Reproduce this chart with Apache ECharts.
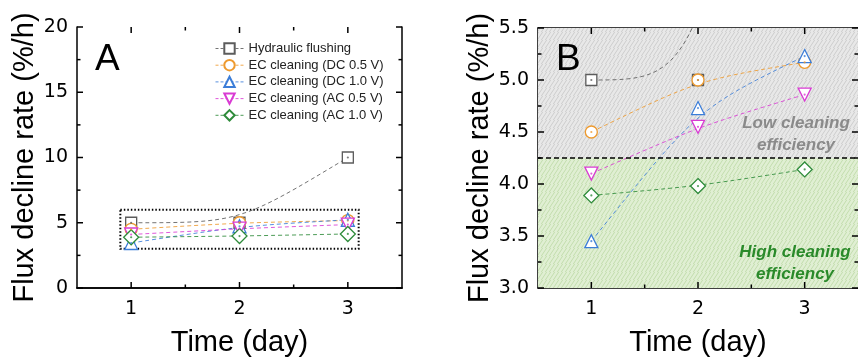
<!DOCTYPE html>
<html>
<head>
<meta charset="utf-8">
<script src="https://cdn.jsdelivr.net/npm/echarts@6/dist/echarts.min.js"></script>
<style>
  html, body { margin: 0; padding: 0; background: #fff; }
  #chart { width: 858px; height: 364px; }
</style>
</head>
<body>
<div id="chart"></div>
<script>
// Flux decline rate per cleaning method, days 1-3
const days = [1, 2, 3];
const seriesNames = [
  'Hydraulic flushing',
  'EC cleaning (DC 0.5 V)',
  'EC cleaning (DC 1.0 V)',
  'EC cleaning (AC 0.5 V)',
  'EC cleaning (AC 1.0 V)'
];
const hydraulic = [5.0, 5.0, 10.0];
const dc05 = [4.5, 5.0, 5.17];
const dc10 = [3.45, 4.73, 5.23];
const ac05 = [4.10, 4.55, 4.86];
const ac10 = [3.89, 3.98, 4.14];
const minorDays = [1.5, 2.5];
const rangeA = [0, 20, 5];      // min, max, step
const rangeB = [3.0, 5.5, 0.5];
const threshold = 4.25;          // split between low / high cleaning efficiency
const zoomBox = { days: [0.9, 3.1], rate: [3, 6] };

const values = [hydraulic, dc05, dc10, ac05, ac10];
const colors = ['#5c5c5c', '#ee9a2e', '#3b7dd8', '#d93bd3', '#2e8b3a'];
const symbols = ['rect', 'circle', 'triangle', 'triangle', 'diamond'];
const symbolSizes = [11, 12, 13, 13, 15];
const symbolRotates = [0, 0, 0, 180, 0];

const FONT = '"Liberation Sans", Arial, sans-serif';
const NUM_FONT = '"DejaVu Sans", sans-serif';

function hatch(bg, fg) {
  const c = document.createElement('canvas');
  c.width = 8; c.height = 8;
  const g = c.getContext('2d');
  g.fillStyle = bg; g.fillRect(0, 0, 8, 8);
  g.strokeStyle = fg; g.lineWidth = 1;
  for (let k = -8; k <= 16; k += 4) {
    g.beginPath(); g.moveTo(k - 8, 16); g.lineTo(k + 8, -8); g.stroke();
  }
  return c;
}

const grids = [
  { left: 77, top: 27, width: 325, height: 261 },
  { left: 538, top: 28, width: 324, height: 260 }
];

const frameLine = () => ({ color: '#000', width: 1.5 });
const xAxes = [];
const yAxes = [];
[0, 1].forEach(g => {
  xAxes.push({
    type: 'value', gridIndex: g, min: 0.5, max: 3.5, position: 'bottom',
    splitLine: { show: false },
    axisLine: { show: true, lineStyle: frameLine() },
    axisTick: { show: false },
    axisLabel: { show: true, customValues: days.slice(), color: '#000', fontSize: 19, fontFamily: NUM_FONT, margin: 12 },
    name: 'Time (day)', nameLocation: 'middle', nameGap: 40,
    nameTextStyle: { color: '#000', fontSize: 29, fontFamily: FONT }
  });
  xAxes.push({
    type: 'value', gridIndex: g, min: 0.5, max: 3.5, position: 'top',
    splitLine: { show: false },
    axisLine: { show: true, lineStyle: frameLine() },
    axisTick: { show: false },
    axisLabel: { show: false }
  });
  const r = g === 0 ? rangeA : rangeB;
  yAxes.push({
    type: 'value', gridIndex: g, min: r[0], max: r[1], interval: r[2], position: 'left',
    splitLine: { show: false },
    axisLine: { show: true, lineStyle: frameLine() },
    axisTick: { show: false },
    axisLabel: { show: true, color: '#000', fontSize: 19, fontFamily: NUM_FONT, margin: 9, formatter: v => g === 0 ? String(v) : v.toFixed(1) },
    name: 'Flux decline rate (%/h)', nameLocation: 'middle', nameGap: g === 0 ? 38 : 44,
    nameTextStyle: { color: '#000', fontSize: 29, fontFamily: FONT }
  });
  yAxes.push({
    type: 'value', gridIndex: g, min: r[0], max: r[1], interval: r[2], position: 'right',
    splitLine: { show: false },
    axisLine: { show: true, lineStyle: frameLine() },
    axisTick: { show: false },
    axisLabel: { show: false }
  });
});

// inward ticks on all four sides of a panel, placed through the axis scales
function tickRenderer(range) {
  const majorY = [], minorY = [];
  for (let v = range[0]; v <= range[1] + 1e-9; v += range[2]) majorY.push(v);
  for (let v = range[0] + range[2] / 2; v < range[1]; v += range[2]) minorY.push(v);
  return function (params, api) {
    const cs = params.coordSys;
    const left = cs.x, right = cs.x + cs.width, top = cs.y, bottom = cs.y + cs.height;
    const style = { stroke: '#000', lineWidth: 1.5 };
    const kids = [];
    const addX = (d, len) => {
      const x = api.coord([d, range[0]])[0];
      kids.push({ type: 'line', shape: { x1: x, y1: bottom, x2: x, y2: bottom - len }, style });
      kids.push({ type: 'line', shape: { x1: x, y1: top, x2: x, y2: top + len }, style });
    };
    const addY = (v, len) => {
      const y = api.coord([days[0], v])[1];
      kids.push({ type: 'line', shape: { x1: left, y1: y, x2: left + len, y2: y }, style });
      kids.push({ type: 'line', shape: { x1: right, y1: y, x2: right - len, y2: y }, style });
    };
    days.forEach(d => addX(d, 6));
    minorDays.forEach(d => addX(d, 3.5));
    majorY.forEach(v => addY(v, 6));
    minorY.forEach(v => addY(v, 3.5));
    return { type: 'group', children: kids };
  };
}

function curveRenderer(vals, color) {
  return function (params, api) {
    if (params.dataIndex !== 0) return null;
    const p = days.map((d, i) => api.coord([d, vals[i]]));
    const cs = params.coordSys;
    return {
      type: 'bezierCurve',
      shape: {
        x1: p[0][0], y1: p[0][1],
        cpx1: p[1][0], cpy1: p[1][1],
        cpx2: p[1][0], cpy2: p[1][1],
        x2: p[2][0], y2: p[2][1]
      },
      style: { fill: null, stroke: color, lineWidth: 1, lineDash: [4, 3], opacity: 0.85 },
      clipPath: { type: 'rect', shape: { x: cs.x, y: cs.y, width: cs.width, height: cs.height } }
    };
  };
}

const series = [];

// panel B background zones + threshold line
series.push({
  type: 'line', xAxisIndex: 2, yAxisIndex: 2, z: 1, silent: true,
  data: [[1, 4]], showSymbol: false, symbol: 'none',
  lineStyle: { opacity: 0 },
  markArea: {
    silent: true,
    label: { show: false },
    data: [
      [{ yAxis: threshold, itemStyle: { color: { image: hatch('#e8e8e8', '#cdcdcd'), repeat: 'repeat' } } }, { yAxis: rangeB[1] }],
      [{ yAxis: rangeB[0], itemStyle: { color: { image: hatch('#e0efd3', '#c3ddae'), repeat: 'repeat' } } }, { yAxis: threshold }]
    ]
  },
  markLine: {
    silent: true, symbol: 'none', label: { show: false },
    lineStyle: { color: '#000', type: [5, 3], width: 1.5 },
    data: [{ yAxis: threshold }]
  }
});

// panel A zoom frame
series.push({
  type: 'line', xAxisIndex: 0, yAxisIndex: 0, z: 1, silent: true,
  data: [[1, 4]], showSymbol: false, symbol: 'none',
  lineStyle: { opacity: 0 },
  markArea: {
    silent: true, label: { show: false },
    itemStyle: { color: 'rgba(0,0,0,0)', borderColor: '#000', borderWidth: 2, borderType: [1.5, 2] },
    data: [[{ coord: [zoomBox.days[0], zoomBox.rate[1]] }, { coord: [zoomBox.days[1], zoomBox.rate[0]] }]]
  }
});

[0, 1].forEach(g => {
  const xi = g * 2, yi = g * 2;
  const r = g === 0 ? rangeA : rangeB;
  series.push({
    type: 'custom', xAxisIndex: xi, yAxisIndex: yi, z: 10, silent: true, clip: false,
    renderItem: tickRenderer(r),
    data: [[days[0], r[0]]]
  });
  values.forEach((vals, k) => {
    const pts = days.map((d, i) => [d, vals[i]]);
    series.push({
      type: 'custom', xAxisIndex: xi, yAxisIndex: yi, z: 2, silent: true, clip: true,
      renderItem: curveRenderer(vals, colors[k]),
      data: pts
    });
    series.push({
      type: 'line', name: seriesNames[k], xAxisIndex: xi, yAxisIndex: yi, z: 3 + k * 0.01,
      data: pts, symbol: symbols[k], symbolSize: symbolSizes[k], symbolRotate: symbolRotates[k],
      showAllSymbol: true, clip: true,
      itemStyle: { color: '#fff', borderColor: colors[k], borderWidth: 1.3 },
      lineStyle: { color: colors[k], width: 1, opacity: 0 },
      emphasis: { disabled: true }
    });
    series.push({
      type: 'scatter', xAxisIndex: xi, yAxisIndex: yi, z: 4, silent: true,
      data: pts, symbol: 'circle', symbolSize: 2.2,
      itemStyle: { color: colors[k] }
    });
  });
});

const textBase = { align: 'center', verticalAlign: 'middle', lineHeight: 22, fontSize: 17, fontStyle: 'italic', fontWeight: 'bold', fontFamily: FONT };

const option = {
  animation: false,
  backgroundColor: '#fff',
  grid: grids,
  xAxis: xAxes,
  yAxis: yAxes,
  legend: {
    data: seriesNames, orient: 'vertical', left: 215, top: 42,
    itemWidth: 28, itemHeight: 13, itemGap: 3.7, padding: 0,
    selectedMode: false,
    textStyle: { color: '#222', fontSize: 13, fontFamily: FONT },
    lineStyle: { opacity: 0.85, width: 1, type: [3, 2] }
  },
  graphic: [
    { type: 'text', z: 20, left: 95, top: 41, style: { text: 'A', fontSize: 37, fontFamily: FONT, fill: '#000' } },
    { type: 'text', z: 20, left: 556, top: 41, style: { text: 'B', fontSize: 37, fontFamily: FONT, fill: '#000' } },
    { type: 'text', z: 20, x: 796, y: 134, style: Object.assign({ text: 'Low cleaning\nefficiency', fill: '#8a8a8a' }, textBase) },
    { type: 'text', z: 20, x: 795, y: 263, style: Object.assign({ text: 'High cleaning\nefficiency', fill: '#2a8a2a' }, textBase) }
  ],
  series: series
};

const chart = echarts.init(document.getElementById('chart'), null, { renderer: 'canvas' });
chart.setOption(option);
</script>
</body>
</html>
